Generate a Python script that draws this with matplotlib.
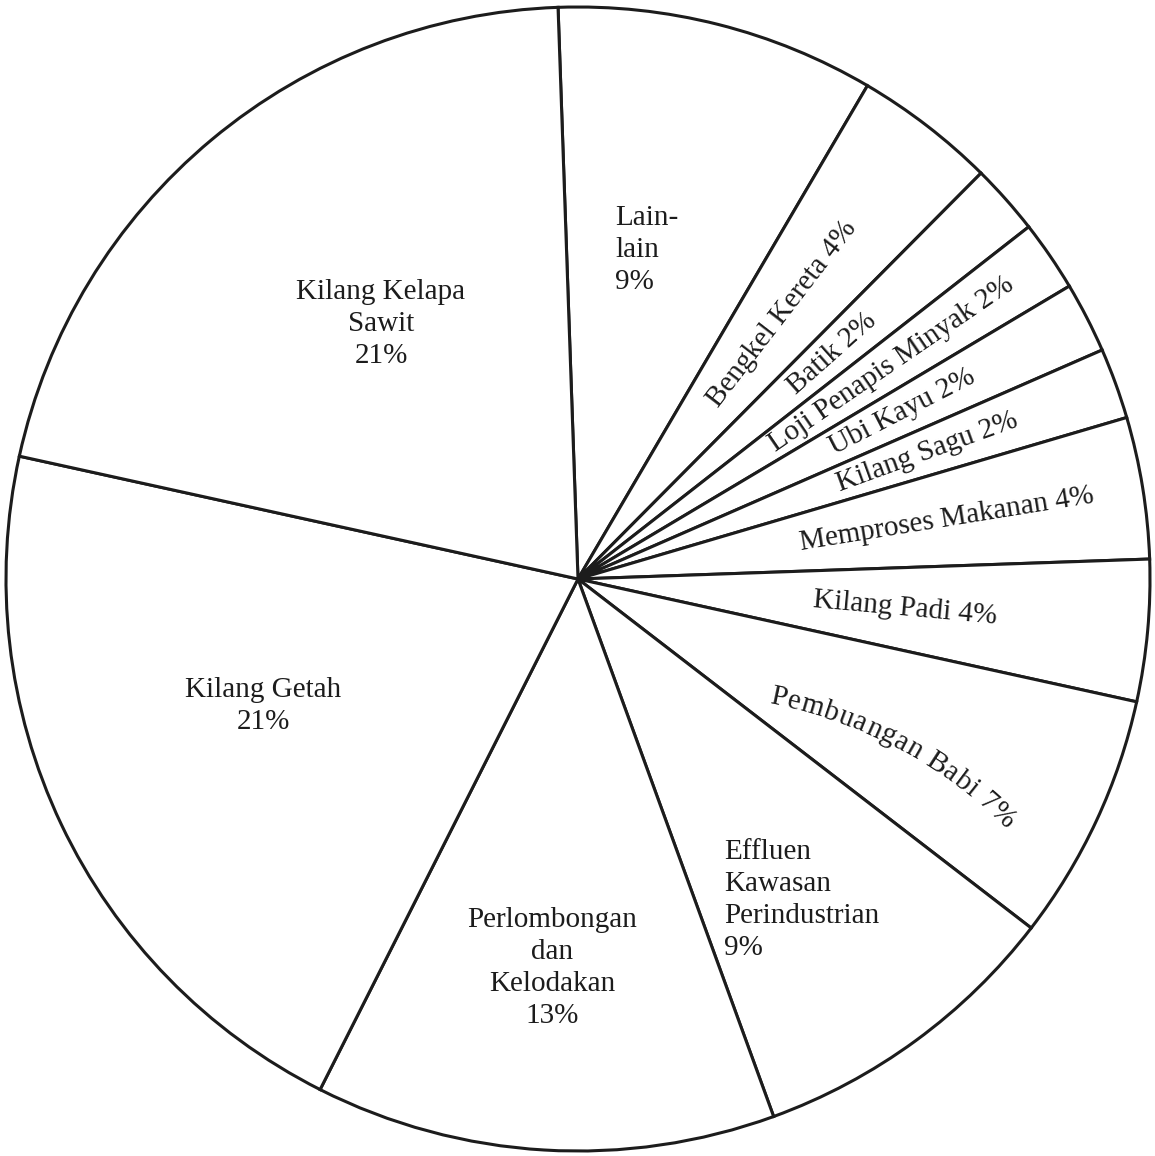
from matplotlib import pyplot as plt
import numpy as np

# sumber pencemaran (peratus)
names = ['Lain-\nlain', 'Bengkel Kereta', 'Batik', 'Loji Penapis Minyak',
         'Ubi Kayu', 'Kilang Sagu', 'Memproses Makanan', 'Kilang Padi',
         'Pembuangan Babi', 'Effluen\nKawasan\nPerindustrian',
         'Perlombongan\ndan\nKelodakan', 'Kilang Getah', 'Kilang Kelapa\nSawit']
shares = [9, 4, 2, 2, 2, 2, 4, 4, 7, 9, 13, 21, 21]

W, H = 1155, 1156
cx, cy = 578, H - 579
R = 572
ink = '#1c1c1c'
font = dict(family='Liberation Serif', size=21, color=ink)

fig = plt.figure(figsize=(W / 100, H / 100), dpi=100)
ax = fig.add_axes([0, 0, 1, 1])

wedges, _ = ax.pie(shares, center=(cx, cy), radius=R, startangle=92,
                   counterclock=False,
                   wedgeprops=dict(facecolor='white', edgecolor=ink, linewidth=2.2))
ax.set_xlim(0, W)
ax.set_ylim(0, H)
ax.axis('off')

# horizontal labels: x, y (from top), alignment
flat_pos = {0: (615, 250, 'left'), 9: (724, 900, 'left'),
            10: (552, 968, 'center'), 11: (263, 706, 'center'),
            12: (381, 324, 'center')}
# labels running along the wedge: distance from centre
radial_pos = {1: 335, 2: 340, 3: 380, 4: 365, 5: 372, 6: 374, 7: 328}

for i, (name, pct) in enumerate(zip(names, shares)):
    mid = (wedges[i].theta1 + wedges[i].theta2) / 2
    if i in flat_pos:
        x, y, ha = flat_pos[i]
        ax.text(x, H - y, f'{name}\n{pct}%', ha=ha, va='center',
                multialignment=ha, linespacing=1.3, **font)
    elif i in radial_pos:
        r = radial_pos[i]
        a = np.radians(mid)
        ax.text(cx + r * np.cos(a), cy + r * np.sin(a), f'{name} {pct}%',
                rotation=mid, rotation_mode='anchor', ha='center', va='center',
                **font)

# Pembuangan Babi: text bent along an arc
renderer = fig.canvas.get_renderer()
s = f'{names[8]} {shares[8]}%'

def text_width(txt):
    if not txt:
        return 0.0
    t = ax.text(0, 0, txt, **font)
    w = t.get_window_extent(renderer).width
    t.remove()
    return w

edges = [text_width(s[:k]) * 1.06 for k in range(len(s) + 1)]
L = edges[-1]
mid = (wedges[8].theta1 + wedges[8].theta2) / 2 - 3
a = np.radians(mid)
mx, my = cx + 362 * np.cos(a), cy + 362 * np.sin(a)
Rc = 460
phi_mid = np.radians(mid + 90)
ox, oy = mx - Rc * np.cos(phi_mid), my - Rc * np.sin(phi_mid)
for k, ch in enumerate(s):
    if ch == ' ':
        continue
    arc = (edges[k] + edges[k + 1]) / 2 - L / 2
    phi = phi_mid - arc / Rc
    ax.text(ox + Rc * np.cos(phi), oy + Rc * np.sin(phi), ch,
            rotation=np.degrees(phi) - 90, rotation_mode='anchor',
            ha='center', va='baseline', **font)

fig.savefig('out.png', dpi=100, facecolor='white')
